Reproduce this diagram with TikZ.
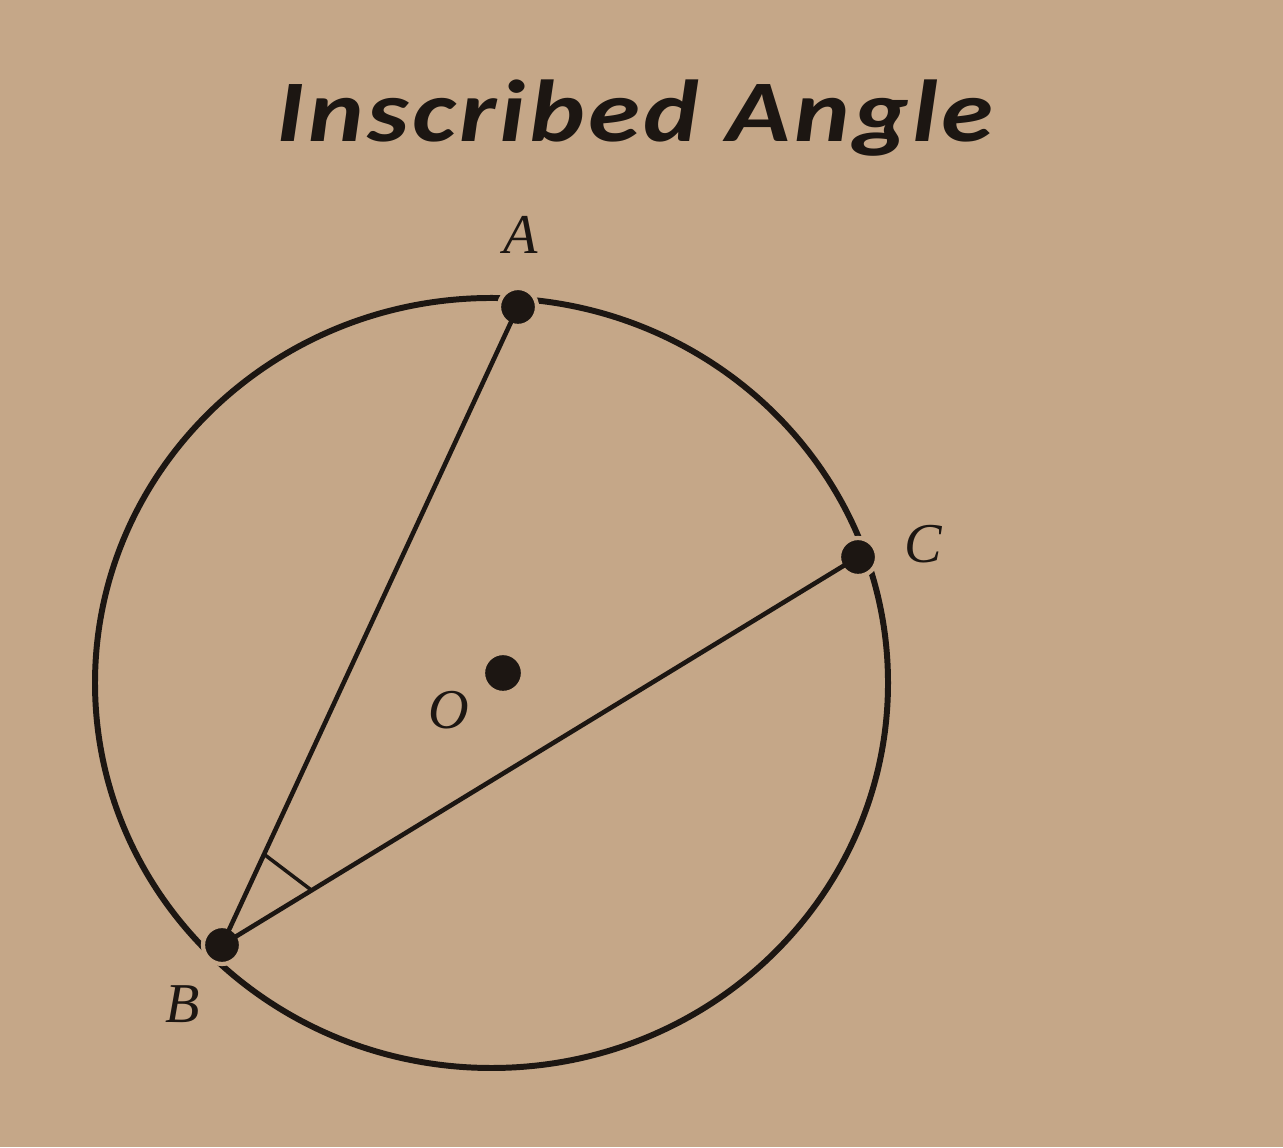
\documentclass[tikz,border=0pt]{standalone}
\usepackage{fontspec}
\setmainfont{Liberation Serif}
\newfontfamily\titlefont[FakeStretch=1.2,LetterSpace=4]{Carlito}
\usetikzlibrary{calc}
\definecolor{paper}{RGB}{197,167,136}
\definecolor{ink}{RGB}{28,22,18}

\begin{document}
\begin{tikzpicture}[
  pt/.style={circle,fill=ink,draw=paper,line width=1.2pt,inner sep=0pt,minimum size=0.38cm},
  lbl/.style={font=\fontsize{16}{18}\selectfont\itshape,text=ink,inner sep=0pt},
  chord/.style={ink,line width=1.3pt}
]
\fill[paper] (0,0) rectangle (12.83,11.47);
\useasboundingbox (0,0) rectangle (12.83,11.47);
% title
\node[font=\titlefont\bfseries\itshape\fontsize{25}{30}\selectfont,text=ink,anchor=base] (title) at (6.35,10.05) {Inscribed Angle};
% circle
\draw[ink,line width=1.7pt] (4.915,4.64) ellipse (3.965 and 3.85);
% points
\node[pt] (A) at (5.18,8.40) {};
\node[pt] (C) at (8.58,5.90) {};
\node[pt] (B) at (2.22,2.02) {};
\node[pt,minimum size=0.4cm] (O) at (5.03,4.74) {};
% chords
\draw[chord] (B.center) -- (A.center);
\draw[chord] (B.center) -- (C.center);
% angle mark
\draw[ink,line width=1pt] ($(B)!1cm!(A)$) -- ($(B)!1.05cm!(C)$);
% labels
\node[lbl] (lA) at (5.21,9.12) {A};
\node[lbl] (lC) at (9.23,6.03) {C};
\node[lbl] (lB) at (1.83,1.43) {B};
\node[lbl] (lO) at (4.49,4.37) {O};
\end{tikzpicture}
\end{document}
